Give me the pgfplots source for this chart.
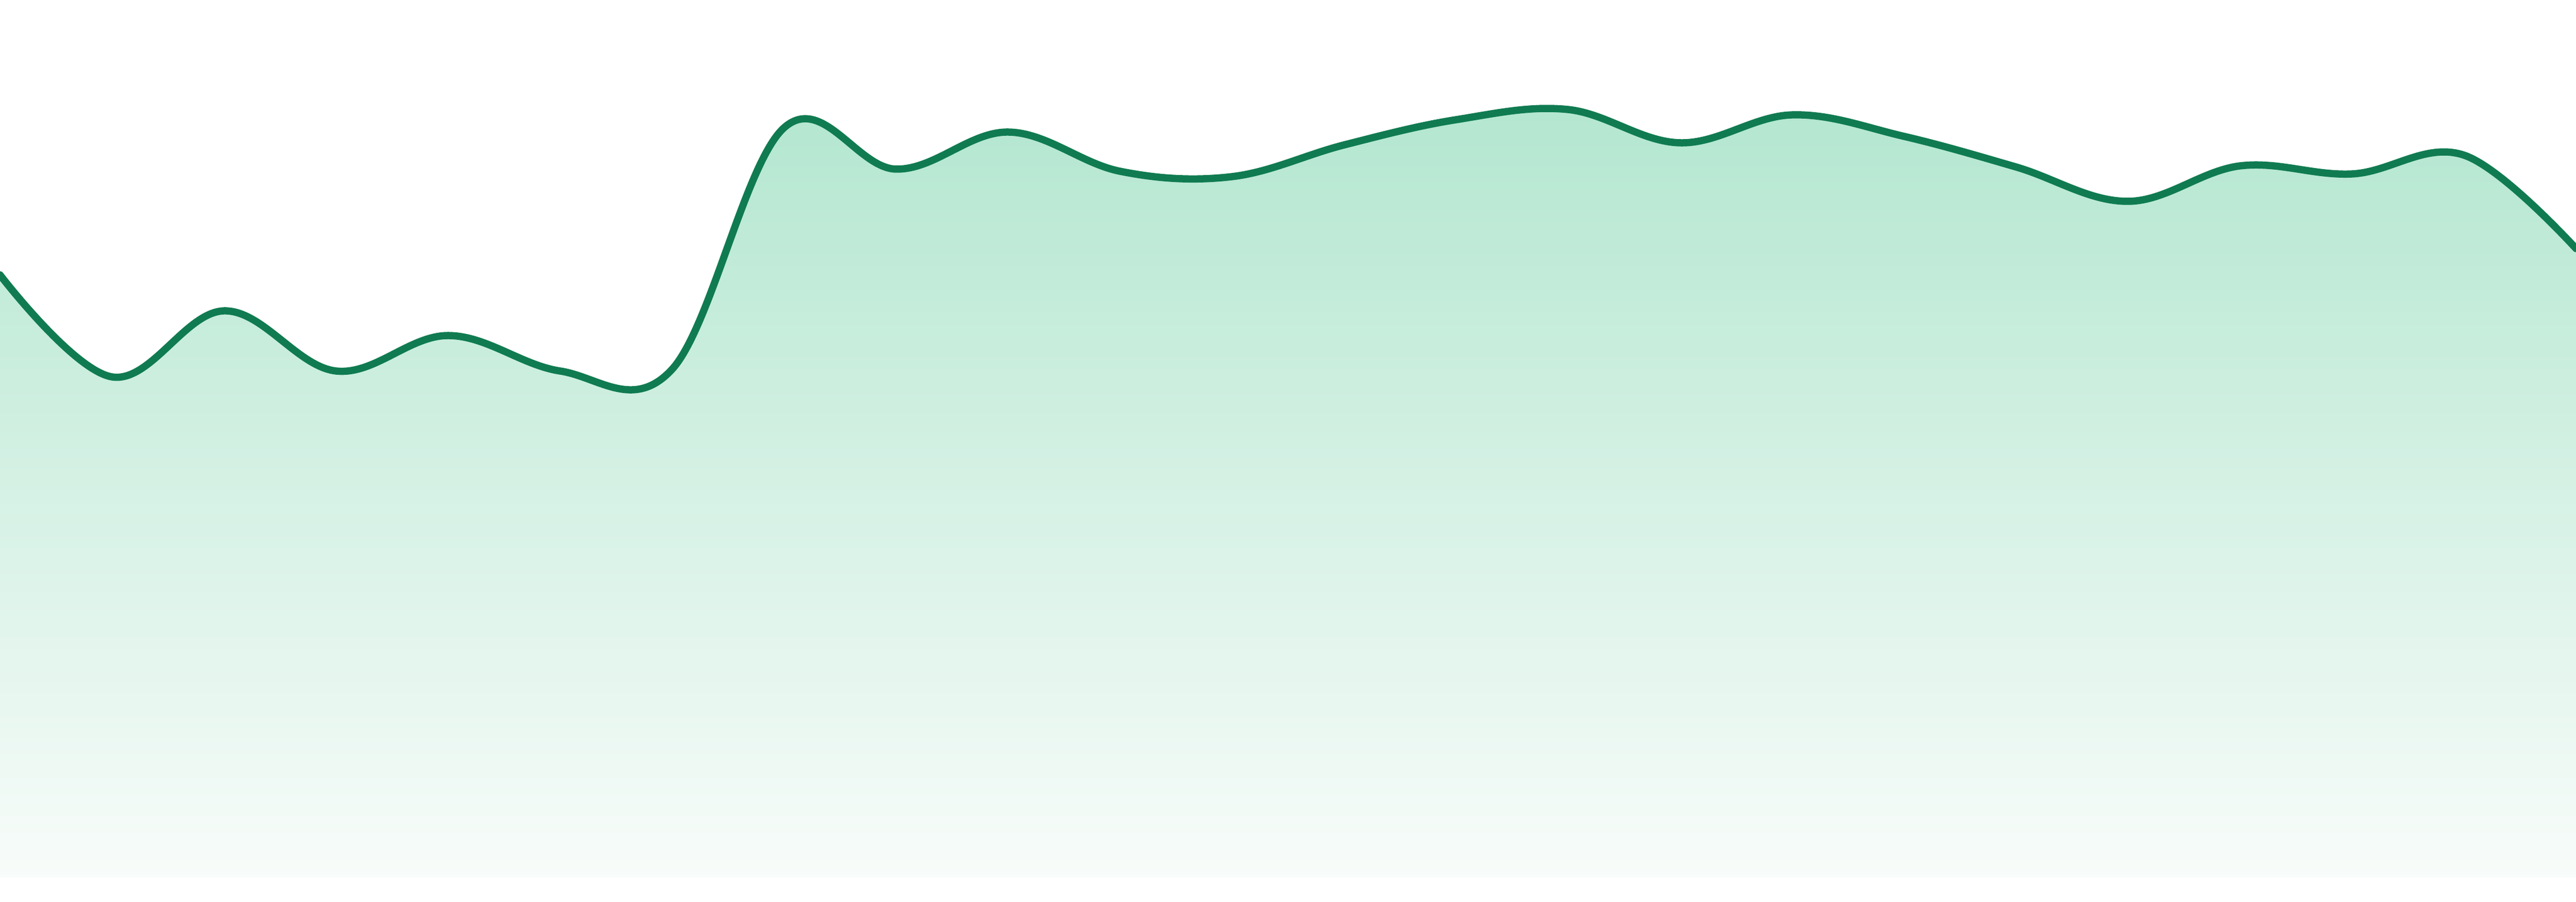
\documentclass[border=0pt]{standalone}
\usepackage{pgfplots}
\usepackage{pgfplotstable}
\pgfplotsset{compat=1.18}

\definecolor{linegreen}{RGB}{16,123,81}
\definecolor{filltop}{RGB}{178,230,207}
\definecolor{fillbot}{RGB}{248,252,250}

% values (baseline of the area = 0)
\pgfplotstableread{
x  y
0  1123
1  933
2  1056
3  944
4  1010
5  944
6  947
7  1397
8  1320
9  1389
10 1316
11 1306
12 1365
13 1412
14 1431
15 1369
16 1421
17 1381
18 1324
19 1260
20 1326
21 1311
22 1346
23 1172
}\sparkdata

\begin{document}
\begin{tikzpicture}
  \begin{axis}[
    width=480bp, height=168bp,
    scale only axis,
    hide axis,
    xmin=0, xmax=23,
    ymin=-45, ymax=1635,
    clip=true,
  ]
  \addplot[draw=none, top color=filltop, bottom color=fillbot,
    smooth, tension=0.62] table {\sparkdata} \closedcycle;
  \addplot[linegreen, line width=1.35bp, smooth, tension=0.62,
    line cap=round, line join=round] table {\sparkdata};
  \end{axis}
  \pgfresetboundingbox
  \useasboundingbox (current axis.south west) rectangle (current axis.north east);
\end{tikzpicture}
\end{document}
